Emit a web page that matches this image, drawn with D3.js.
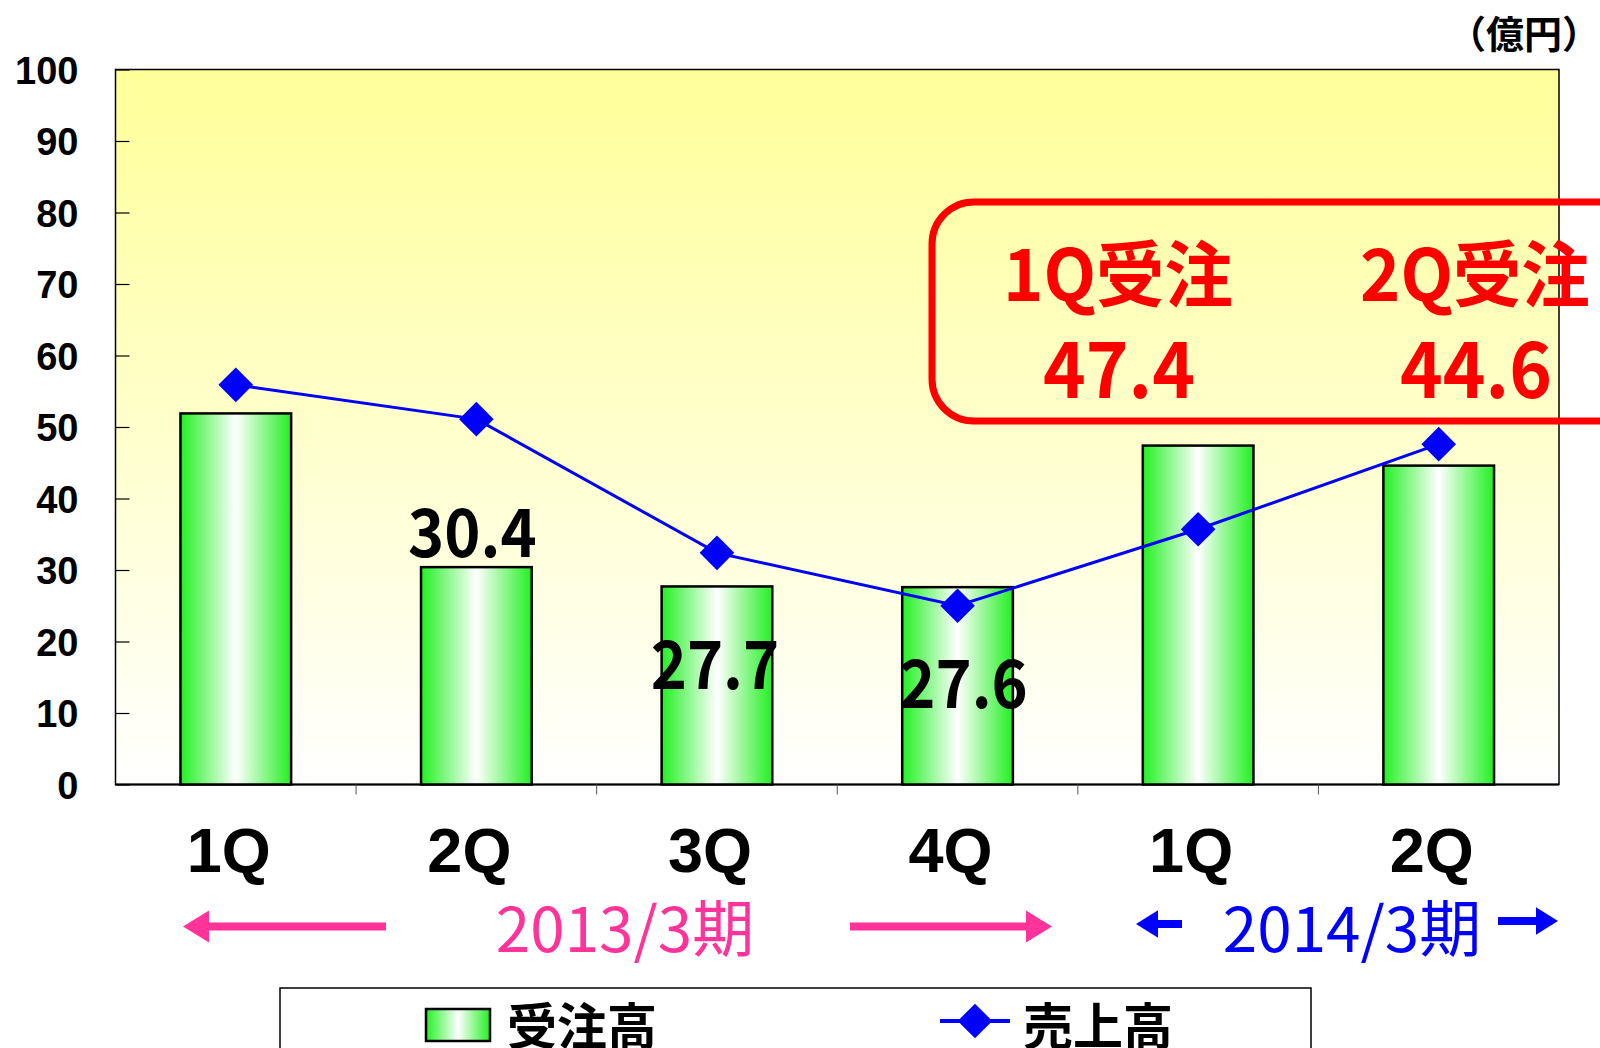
<!DOCTYPE html>
<html><head><meta charset="utf-8">
<script src="https://cdn.jsdelivr.net/npm/d3@7"></script>
<style>html,body{margin:0;padding:0;background:#fff;} svg{display:block;}</style>
</head><body>
<svg id="c" width="1600" height="1048"></svg>
<script>
const categories = ["1Q","2Q","3Q","4Q","1Q","2Q"];
const orders = [51.9, 30.4, 27.7, 27.6, 47.4, 44.6];   // 受注高
const sales  = [55.9, 51.1, 32.4, 25.0, 35.7, 47.6];   // 売上高
const yTicks = [0,10,20,30,40,50,60,70,80,90,100];
const periods = ["2013/3期","2014/3期"];
const seriesNames = ["受注高","売上高"];
const calloutTitles = ["1Q受注","2Q受注"];
const calloutValues = ["47.4","44.6"];
const unitLabel = "（億円）";

const svg = d3.select("#c");
const L = 115.5, R = 1559, T = 69.5, B = 784.5;
const x = d3.scaleBand().domain(d3.range(categories.length)).range([L, R]).paddingInner(0.54).paddingOuter(0.27);
const xc = i => x(i) + x.bandwidth()/2;
const y = d3.scaleLinear().domain([0,100]).range([B, T]);

const defs = svg.append("defs");
const bg = defs.append("linearGradient").attr("id","bg").attr("x1",0).attr("y1",0).attr("x2",0).attr("y2",1);
bg.append("stop").attr("offset","0%").attr("stop-color","#FFFF99");
bg.append("stop").attr("offset","60%").attr("stop-color","#FFFFD6");
bg.append("stop").attr("offset","100%").attr("stop-color","#FFFFFF");
const bar = defs.append("linearGradient").attr("id","bar").attr("x1",0).attr("y1",0).attr("x2",1).attr("y2",0);
bar.append("stop").attr("offset","0%").attr("stop-color","#22F022");
bar.append("stop").attr("offset","50%").attr("stop-color","#FFFFFF");
bar.append("stop").attr("offset","100%").attr("stop-color","#22F022");

svg.append("rect").attr("x",L).attr("y",T).attr("width",R-L).attr("height",B-T)
  .attr("fill","url(#bg)").attr("stroke","#000").attr("stroke-width",1.5);

// y axis
const yAxis = d3.axisLeft(y).tickValues(yTicks).tickSize(-14).tickPadding(37);
const ya = svg.append("g").attr("transform",`translate(${L},0)`).call(yAxis);
ya.select(".domain").remove();
ya.selectAll("line").attr("stroke","#000").attr("stroke-width",1.2);
ya.selectAll("text").attr("font-family","Liberation Sans, Arial, sans-serif").attr("font-weight","bold")
  .attr("font-size",38).attr("fill","#000").attr("dy","0.36em");

// x baseline with boundary ticks
svg.append("line").attr("x1",L).attr("x2",R).attr("y1",B).attr("y2",B).attr("stroke","#000").attr("stroke-width",2);
const step = (R-L)/categories.length;
svg.selectAll(".xt").data(d3.range(1,categories.length)).join("line")
  .attr("x1",d=>L+d*step).attr("x2",d=>L+d*step).attr("y1",B).attr("y2",B+10)
  .attr("stroke","#555").attr("stroke-width",1);

// bars
svg.selectAll(".bar").data(orders).join("rect")
  .attr("x",(d,i)=>x(i)).attr("width",x.bandwidth())
  .attr("y",d=>y(d)).attr("height",d=>B-y(d))
  .attr("fill","url(#bar)").attr("stroke","#000").attr("stroke-width",2.5);

// sales line
const line = d3.line().x((d,i)=>xc(i)).y(d=>y(d));
svg.append("path").datum(sales).attr("d",line).attr("fill","none").attr("stroke","#0000FF").attr("stroke-width",3);
const diamond = d3.symbol().type(d3.symbolSquare).size(600);
svg.selectAll(".pt").data(sales).join("path")
  .attr("transform",(d,i)=>`translate(${xc(i)},${y(d)}) rotate(45)`)
  .attr("d",diamond).attr("fill","#0000FF");

// data labels
const cond = "Noto Sans CJK JP, sans-serif";
const lbl = [{i:1, v:orders[1], dy:-10, dx:-4},{i:2, v:orders[2], dy:103, dx:-2},{i:3, v:orders[3], dy:121, dx:6}];
lbl.forEach(o=>{
  svg.append("text").attr("transform",`translate(${xc(o.i)+o.dx},${y(o.v)+o.dy}) scale(0.93,1)`)
    .attr("text-anchor","middle").attr("font-family",cond).attr("font-weight","bold")
    .attr("font-size",66).attr("fill","#000").text(d3.format(".1f")(o.v));
});

// category labels
svg.selectAll(".cat").data(categories).join("text")
  .attr("x",(d,i)=>xc(i)-7).attr("y",872)
  .attr("text-anchor","middle").attr("font-family","Liberation Sans, Arial, sans-serif").attr("font-weight","bold")
  .attr("font-size",63).attr("fill","#000").text(d=>d);

// period labels & arrows
function arrow(x1,x2,yy,color,w,head){
  const dir = Math.sign(x2-x1);
  svg.append("line").attr("x1",x1).attr("x2",x2-dir*head*0.9).attr("y1",yy).attr("y2",yy).attr("stroke",color).attr("stroke-width",w);
  svg.append("path").attr("d",`M${x2},${yy} L${x2-dir*head},${yy-head*0.62} L${x2-dir*head},${yy+head*0.62} Z`).attr("fill",color);
}
arrow(386,183,926.5,"#FF3399",8,26);
arrow(850,1052,926.5,"#FF3399",8,26);
arrow(1182,1136,924,"#0000FF",8,22);
arrow(1498,1558,921,"#0000FF",8,22);
svg.append("text").attr("transform","translate(625,952)").attr("text-anchor","middle")
  .attr("font-family",cond).attr("font-size",62).attr("fill","#FF3399").text(periods[0]);
svg.append("text").attr("transform","translate(1352,952)").attr("text-anchor","middle")
  .attr("font-family",cond).attr("font-size",62).attr("fill","#0000FF").text(periods[1]);

// callout box
svg.append("rect").attr("x",932).attr("y",202).attr("width",720).attr("height",219).attr("rx",42)
  .attr("fill","none").attr("stroke","#FF0000").attr("stroke-width",7);
const cx = [1118, 1475];
calloutTitles.forEach((t,k)=>{
  svg.append("text").attr("transform",`translate(${cx[k]},301) scale(0.95,1)`).attr("text-anchor","middle")
    .attr("font-family",cond).attr("font-weight","bold").attr("font-size",72).attr("fill","#FF0000").text(t);
  svg.append("text").attr("transform",`translate(${cx[k]+1},398) scale(0.93,1)`).attr("text-anchor","middle")
    .attr("font-family",cond).attr("font-weight","bold").attr("font-size",78).attr("fill","#FF0000").text(calloutValues[k]);
});

// unit label
svg.append("text").attr("x",1600).attr("y",48).attr("text-anchor","end")
  .attr("font-family",cond).attr("font-weight","bold").attr("font-size",38).attr("fill","#000").text(unitLabel);

// legend
svg.append("rect").attr("x",280).attr("y",988).attr("width",1031).attr("height",80).attr("fill","#fff").attr("stroke","#000").attr("stroke-width",1.5);
svg.append("rect").attr("x",426).attr("y",1009).attr("width",64).attr("height",32).attr("fill","url(#bar)").attr("stroke","#000").attr("stroke-width",2.5);
svg.append("text").attr("x",507).attr("y",1045).attr("font-family",cond).attr("font-weight","bold").attr("font-size",50).attr("fill","#000").text(seriesNames[0]);
svg.append("line").attr("x1",940).attr("x2",1010).attr("y1",1021).attr("y2",1021).attr("stroke","#0000FF").attr("stroke-width",4);
svg.append("path").attr("transform","translate(975,1021) rotate(45)").attr("d",diamond).attr("fill","#0000FF");
svg.append("text").attr("x",1023).attr("y",1045).attr("font-family",cond).attr("font-weight","bold").attr("font-size",50).attr("fill","#000").text(seriesNames[1]);
</script>
</body></html>
